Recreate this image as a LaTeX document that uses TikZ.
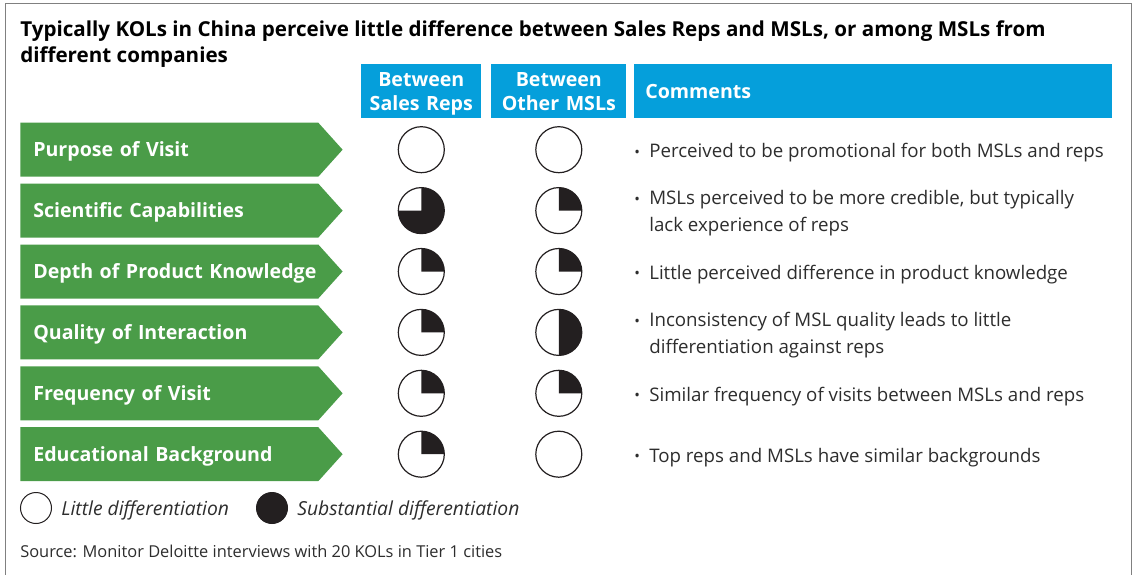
\documentclass[tikz,border=0pt]{standalone}
\usepackage{fontspec}
\setmainfont{Open Sans}
\usepackage{xcolor}
\usepackage{tikz}
\usetikzlibrary{shapes,positioning}

\definecolor{kolgreen}{RGB}{74,156,72}
\definecolor{kolblue}{RGB}{5,159,219}
\definecolor{balldark}{RGB}{35,31,32}
\definecolor{cmtgray}{RGB}{45,45,45}
\newcommand{\bul}{\makebox[15pt][l]{\raisebox{0.5pt}{\fontsize{15}{15}\selectfont\textbullet}}}

\begin{document}
\begin{tikzpicture}[x=1pt, y=1pt, semithick,
  lbl/.style={signal, signal to=east, signal pointer angle=96, fill=kolgreen, text=white,
    font=\fontsize{19.6}{23}\selectfont\bfseries, text width=272pt, inner xsep=13pt,
    text height=14pt, text depth=0pt, minimum height=54pt, anchor=west},
  hdr/.style={fill=kolblue, text=white, font=\fontsize{19.6}{24}\selectfont\bfseries,
    align=center, minimum height=54pt, inner xsep=0pt, anchor=north west},
  hdrtwo/.style={hdr, inner ysep=0pt, execute at begin node={\rule{0pt}{20pt}},
    execute at end node={\rule[-6pt]{0pt}{6pt}}},
  ball/.style={circle, draw=balldark, line width=1.2pt, minimum size=46pt, inner sep=0pt, fill=white},
  q1/.style={ball, path picture={\fill[balldark] (path picture bounding box.center) -- ++(0,24pt)
    arc[start angle=90, end angle=0, radius=24pt] -- cycle;}},
  q2/.style={ball, path picture={\fill[balldark] (path picture bounding box.center) -- ++(0,24pt)
    arc[start angle=90, end angle=-90, radius=24pt] -- cycle;}},
  q3/.style={ball, path picture={\fill[balldark] (path picture bounding box.center) -- ++(0,24pt)
    arc[start angle=90, end angle=-180, radius=24pt] -- cycle;}},
  cmt/.style={anchor=west, align=left, text=cmtgray, font=\fontsize{18.7}{27}\selectfont,
    inner sep=0pt, yshift=-3pt},
  legball/.style={circle, draw=balldark, line width=1pt, minimum size=31pt, inner sep=0pt},
  legtxt/.style={text=cmtgray, font=\fontsize{19.3}{23}\selectfont\itshape, inner sep=0pt, yshift=-2pt}]

\useasboundingbox (0,0) rectangle (1137,-575);
\draw[gray, thin] (5,-3) rectangle (1131,-585);

% title
\node[anchor=north west, align=left, inner sep=0pt, font=\fontsize{20.6}{26}\selectfont\bfseries] (title) at (20,-20)
  {Typically KOLs in China perceive little difference between Sales Reps and MSLs, or among MSLs from\\different companies};

% column headers
\node[hdrtwo, text width=120pt] (h1) at (361,-64) {Between\\Sales Reps};
\node[hdrtwo, text width=135pt] (h2) at (491,-64) {Between\\Other MSLs};
\node[hdr, text width=456pt, inner xsep=11pt, align=left] (h3) at (634,-64) {Comments};

% rows
\node[lbl] (r1) at (20,-149.7) {Purpose of Visit};
\node[lbl] (r2) at (20,-210.6) {Scientific Capabilities};
\node[lbl] (r3) at (20,-271.5) {\mbox{Depth of Product Knowledge}};
\node[lbl] (r4) at (20,-332.4) {Quality of Interaction};
\node[lbl] (r5) at (20,-393.3) {Frequency of Visit};
\node[lbl] (r6) at (20,-454.2) {Educational Background};

% between sales reps
\node[ball] (a1) at (h1.center |- r1) {};
\node[q3] (a2) at (h1.center |- r2) {};
\node[q1] (a3) at (h1.center |- r3) {};
\node[q1] (a4) at (h1.center |- r4) {};
\node[q1] (a5) at (h1.center |- r5) {};
\node[q1] (a6) at (h1.center |- r6) {};

% between other MSLs
\node[ball] (b1) at (h2.center |- r1) {};
\node[q1] (b2) at (h2.center |- r2) {};
\node[q1] (b3) at (h2.center |- r3) {};
\node[q2] (b4) at (h2.center |- r4) {};
\node[q1] (b5) at (h2.center |- r5) {};
\node[ball] (b6) at (h2.center |- r6) {};

% comments
\node[cmt] (c1) at (h3.west |- r1) {\bul Perceived to be promotional for both MSLs and reps};
\node[cmt] (c2) at (h3.west |- r2) {\bul MSLs perceived to be more credible, but typically\\\hspace*{15pt}lack experience of reps};
\node[cmt] (c3) at (h3.west |- r3) {\bul Little perceived difference in product knowledge};
\node[cmt] (c4) at (h3.west |- r4) {\bul Inconsistency of MSL quality leads to little\\\hspace*{15pt}differentiation against reps};
\node[cmt] (c5) at (h3.west |- r5) {\bul Similar frequency of visits between MSLs and reps};
\node[cmt] (c6) at (h3.west |- r6) {\bul Top reps and MSLs have similar backgrounds};

% legend
\node[legball] (l1) at (36,-508) {};
\node[legtxt, right=9pt of l1] (l1t) {Little differentiation};
\node[legball, fill=balldark] (l2) at (272,-508) {};
\node[legtxt, right=9pt of l2] (l2t) {Substantial differentiation};

\node[anchor=west, inner sep=0pt, text=cmtgray, font=\fontsize{16.4}{18}\selectfont] (src) at (20,-551)
  {Source: Monitor Deloitte interviews with 20 KOLs in Tier 1 cities};

\end{tikzpicture}
\end{document}
